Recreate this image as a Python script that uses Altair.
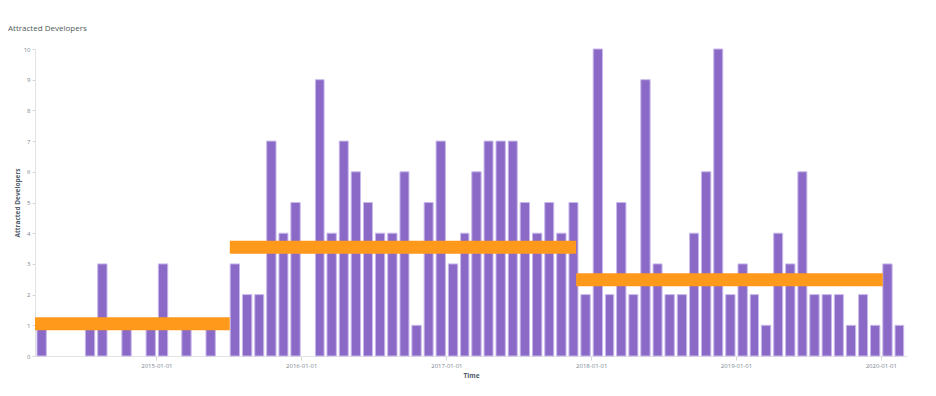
import altair as alt
import pandas as pd

# Monthly attracted developers, March 2014 .. February 2020
months = pd.date_range("2014-03-01", "2020-02-01", freq="MS").strftime("%Y-%m-%d").tolist()
values = [
    1, 0, 0, 0, 1, 3, 0, 1, 0, 1,              # 2014 Mar-Dec
    3, 0, 1, 0, 1, 0, 3, 2, 2, 7, 4, 5,        # 2015
    0, 9, 4, 7, 6, 5, 4, 4, 6, 1, 5, 7,        # 2016
    3, 4, 6, 7, 7, 7, 5, 4, 5, 4, 5, 2,        # 2017
    10, 2, 5, 2, 9, 3, 2, 2, 4, 6, 10, 2,      # 2018
    3, 2, 1, 4, 3, 6, 2, 2, 2, 1, 2, 1,        # 2019
    3, 1,                                      # 2020 Jan-Feb
]

# Period averages (orange segments)
period_start = ["2014-03-01", "2015-07-05", "2017-11-24"]
period_end = ["2015-07-05", "2017-11-24", "2020-01-06"]
period_level = [1.05, 3.54, 2.48]

bars_df = pd.DataFrame({"date": months, "value": values})
periods_df = pd.DataFrame({"start": period_start, "end": period_end, "level": period_level})

x_domain = ["2014-03-01", "2020-03-07"]
year_ticks = ["2015-01-01", "2016-01-01", "2017-01-01", "2018-01-01", "2019-01-01", "2020-01-01"]
y_ticks = [0, 1, 2, 3, 4, 5, 6, 7, 8, 9, 10]

FONT = "Open Sans"
x_scale = alt.Scale(domain=x_domain)
y_scale = alt.Scale(domain=[0, 10], nice=False)

x_axis = alt.Axis(values=year_ticks, format="%Y-%m-%d", labelAngle=0, grid=False, tickSize=4)
y_axis = alt.Axis(values=y_ticks, grid=False, tickSize=3, labelOverlap=False, format="d")

bars = alt.Chart(bars_df).transform_filter("datum.value > 0").mark_bar(
    color="#8A6AC6", stroke="#C9B8EC", strokeWidth=1,
    width=alt.RelativeBandSize(0.84),
).encode(
    x=alt.X("yearmonth(date):T", scale=x_scale, title="Time", axis=x_axis),
    y=alt.Y("value:Q", scale=y_scale, title="Attracted Developers", axis=y_axis),
)

avg = alt.Chart(periods_df).mark_rule(color="#FF991C", strokeWidth=13, strokeCap="butt").encode(
    x=alt.X("start:T", scale=x_scale, title="Time", axis=x_axis),
    x2="end:T",
    y=alt.Y("level:Q", scale=y_scale, title="Attracted Developers", axis=y_axis),
)

chart = alt.layer(bars, avg).properties(
    width=872,
    height=307,
    autosize=alt.AutoSizeParams(type="none"),
    padding={"left": 27, "top": 41, "right": 21, "bottom": 32},
    title=alt.TitleParams("Attracted Developers", anchor="start", frame="group", dx=-27, offset=13,
                          fontSize=8, font=FONT, fontWeight="normal", color="#4F5B5B"),
).configure_view(stroke=None).configure_axis(
    labelFont=FONT, titleFont=FONT, labelFontSize=6, titleFontSize=6.5,
    labelColor="#7A8590", titleColor="#4F5D6B", titleFontWeight="bold",
    domainColor="#E3E3E3", tickColor="#D5D5D5", labelPadding=2,
).configure_axisX(titlePadding=4).configure_axisY(titlePadding=3)

chart.save("out.html", embed_options={"renderer": "svg", "actions": False})
